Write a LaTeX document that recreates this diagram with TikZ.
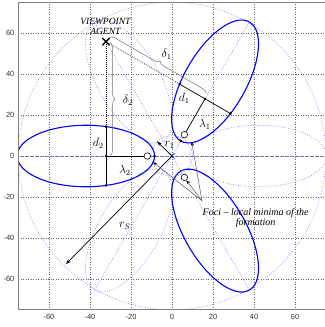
\documentclass[tikz,border=0pt]{standalone}
\usepackage{fontspec}
\setmainfont{Liberation Serif}
\newfontfamily\ticksf{Liberation Sans}
\usetikzlibrary{decorations.pathreplacing,arrows.meta,shapes.misc}
\begin{document}
\begin{tikzpicture}[x=2.05pt,y=2.05pt,
  gridln/.style={black!60, line width=0.4pt, dash pattern=on 0.7pt off 1.8pt},
  bdot/.style={blue!50!white, line width=0.55pt, dash pattern=on 0.9pt off 1.6pt},
  bsolid/.style={blue, line width=1.1pt},
  blk/.style={black, line width=0.7pt},
  blkdot/.style={black, line width=0.6pt, dash pattern=on 0.8pt off 1.2pt},
  dotpt/.style={circle, fill=black, inner sep=0pt, minimum size=2.8pt},
  focus/.style={circle, draw=black, fill=white, line width=0.6pt, inner sep=0pt, minimum size=6.5pt},
  brc/.style={decorate, decoration={brace, amplitude=5pt}, black!55, line width=0.5pt},
  ptr/.style={black!65, line width=0.5pt, -{Stealth[length=4pt,width=3pt,black]}},
  arr/.style={black, line width=0.7pt, -{Stealth[length=5pt,width=3.5pt]}},
  lbl/.style={font=\fontsize{11.5}{13}\selectfont, inner sep=0pt},
  ticklbl/.style={font=\ticksf\fontsize{7.5}{9}\selectfont, text=black!80, inner sep=0pt}
]
\useasboundingbox (-83.9,-83.4) rectangle (74.15,76.1);
\fill[white] (-83.9,-83.4) rectangle (74.15,76.1);
\begin{scope}
\clip (-75,-75) rectangle (75,75);
\foreach \v in {-60,-40,...,60} {
  \draw[gridln] (\v,-75) -- (\v,75);
  \draw[gridln] (-75,\v) -- (75,\v);
}
\draw[bdot] (0,0) circle (75);
\draw[bdot] (0,0) circle (10);
\foreach \a in {0,60,120} \draw[bdot] (\a:75) -- (\a+180:75);
\foreach \a in {0,120,240} \draw[bdot, rotate=\a] (42,0) ellipse (33.5 and 15);
\foreach \a in {60,180,300} \draw[bsolid, rotate=\a] (42,0) ellipse (33.5 and 15);
\end{scope}
\draw[black!50, line width=0.6pt] (75,75) -- (-75,75) -- (-75,-75) -- (75,-75);
\foreach \v in {-60,-40,...,60} {
  \node[ticklbl] at (\v,-78.5) {\v};
  \node[ticklbl, anchor=east] at (-76.8,\v) {\v};
}
% key points
\coordinate (P1) at (3.681,35.056);
\coordinate (A1) at (16.1,27.886);
\coordinate (Q1) at (28.519,20.716);
\coordinate (P2) at (-32.2,14.34);
\coordinate (A2) at (-32.2,0);
\coordinate (Q2) at (-32.2,-14.34);
\coordinate (T1) at (4.25,7.36);
\coordinate (T2) at (-8.5,0);
\coordinate (FT) at (14.6,-21.8);
\coordinate (RS) at (-51.7,-52.7);
\coordinate (R1) at (-7.3,7.1);
\node[cross out, draw=blue, line width=0.6pt, minimum size=4.5pt, inner sep=0pt] (O) at (0,0) {};
\node[cross out, draw=black, line width=1.3pt, minimum size=6pt, inner sep=0pt] (AG) at (-32.2,55.77) {};
% constructions
\draw[blkdot] (AG.center) -- (P2);
\draw[blkdot] (AG.center) -- (P1);
\draw[blk] (P2) -- (Q2);
\draw[blk] (P1) -- (Q1);
\node[focus] (F1) at (6.025,10.436) {};
\node[focus] (F2) at (-12.05,0) {};
\node[focus] (F3) at (6.025,-10.436) {};
\draw[blk] (A2) -- (F2);
\draw[blk] (A1) -- (F1);
\foreach \p in {P1,A1,Q1,P2,A2,Q2,T1,T2} \node[dotpt] at (\p) {};
% braces
\draw[brc] (-30.2,55.3) -- (-30.2,0.3);
\draw[brc] (-30.6,57.8) -- (16.8,30.4);
% arrows
\draw[arr] (O.center) -- (RS);
\draw[arr] (O.center) -- (R1);
\draw[ptr] (FT) -- (-9.2,-3.0);
\draw[ptr] (FT) -- (9.6,7.0);
\draw[ptr] (FT) -- (F3);
% labels
\node[lbl] at (-2.6,49.5) {$\delta_1$};
\node[lbl] at (-21.5,27.3) {$\delta_2$};
\node[lbl] at (6,28) {$d_1$};
\node[lbl] at (-36,6.2) {$d_2$};
\node[lbl] at (16,15.5) {$\lambda_1$};
\node[lbl] at (-23,-7) {$\lambda_2$};
\node[lbl] at (-1.2,5.4) {$r_1$};
\node[lbl] at (-23,-34) {$r_S$};
\node[font=\itshape\fontsize{9.5}{10}\selectfont, align=center, inner sep=0pt] (vp) at (-32.5,63.1) {VIEWPOINT\\AGENT};
\node[font=\itshape\fontsize{10}{10}\selectfont, align=center, inner sep=0pt] (ft) at (40.8,-30.3) {Foci – local minima of the\\formation};
\end{tikzpicture}
\end{document}
